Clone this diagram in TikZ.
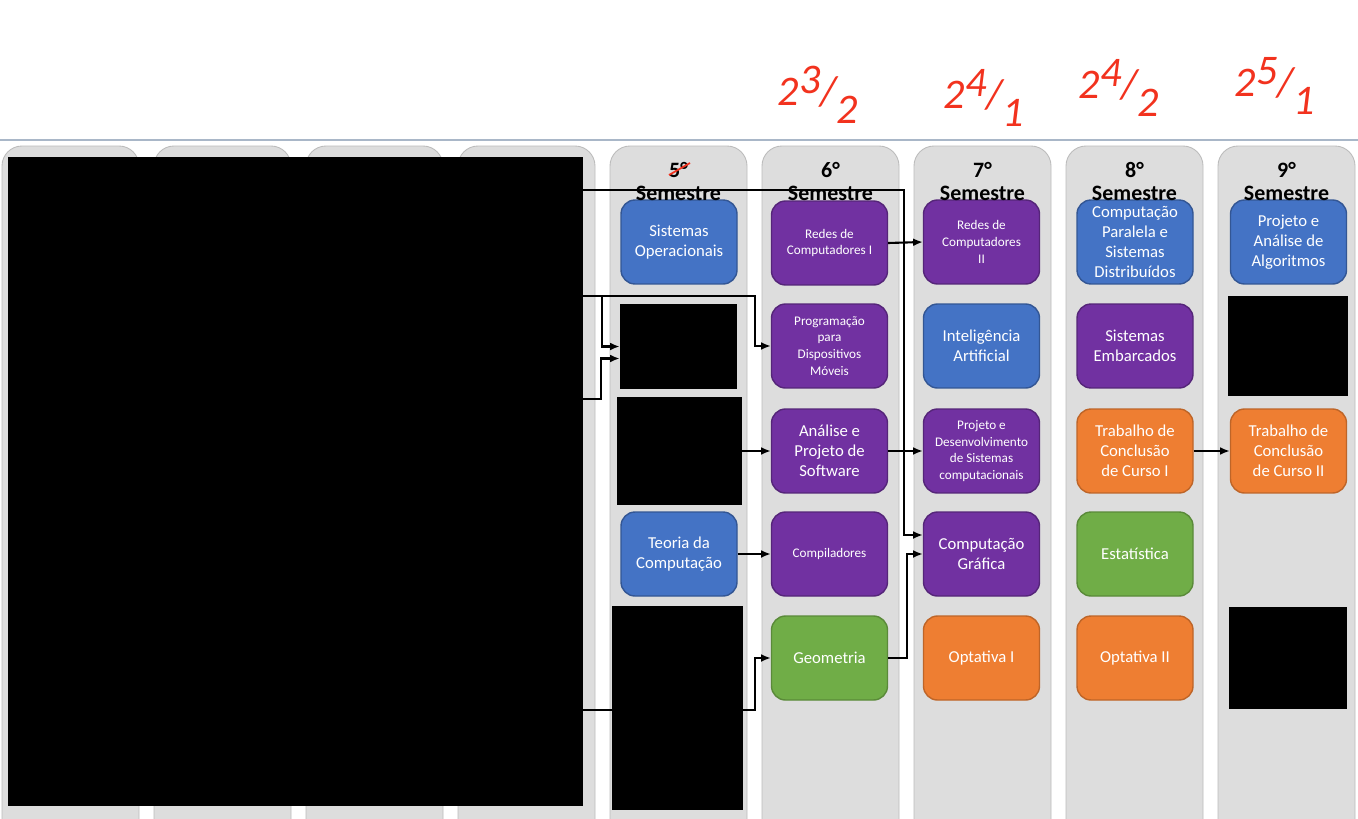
\documentclass[tikz,border=0pt]{standalone}
\usepackage{fontspec}
\setmainfont{Carlito}
\usetikzlibrary{arrows.meta}
\pgfdeclarelayer{cols}
\pgfdeclarelayer{hide}
\pgfsetlayers{cols,main,hide}
\definecolor{cazul}{HTML}{4473C5}
\definecolor{croxo}{HTML}{7131A1}
\definecolor{claranja}{HTML}{EE7E32}
\definecolor{cverde}{HTML}{70AD47}
\definecolor{ccinza}{HTML}{DDDDDD}
\definecolor{ctopo}{HTML}{A9B7C8}
\definecolor{cvermelho}{HTML}{F2321E}

\begin{document}
\begin{tikzpicture}[x=0.02cm,y=-0.02cm,
	coluna/.style={fill=ccinza,draw=ccinza!85!black,line width=0.5pt,rounded corners=0.4cm},
	disc/.style={rectangle,rounded corners=0.28cm,minimum width=2.32cm,minimum height=1.68cm,
		inner sep=1pt,align=center,text=white,line width=0.8pt,
		font=\fontsize{9.5}{11.3}\selectfont},
	pequena/.style={font=\fontsize{7.5}{9.6}\selectfont},
	caixaazul/.style={disc,fill=cazul,draw=cazul!75!black},
	caixaroxa/.style={disc,fill=croxo,draw=croxo!75!black},
	caixalaranja/.style={disc,fill=claranja,draw=claranja!80!black},
	caixaverde/.style={disc,fill=cverde,draw=cverde!80!black},
	cab/.style={align=center,font=\bfseries\fontsize{12.5}{13}\selectfont},
	tarja/.style={fill=black,inner sep=0pt},
	seta/.style={-{Latex[length=5.5pt,width=4.5pt]},line width=1.2pt},
	nota/.style={text=cvermelho,font=\itshape\fontsize{24}{24}\selectfont}]
	\useasboundingbox (0,0) rectangle (1358,818);
	
	\begin{pgfonlayer}{cols}
		\fill[white] (0,0) rectangle (1358,818);
		\draw[ctopo,line width=1.2pt] (0,140) -- (1358,140);
		\path[coluna] (2,820) -- (2,146) -- (139,146) -- (139,820);
		\path[coluna] (154,820) -- (154,146) -- (291,146) -- (291,820);
		\path[coluna] (306,820) -- (306,146) -- (443,146) -- (443,820);
		\path[coluna] (458,820) -- (458,146) -- (595,146) -- (595,820);
		\path[coluna] (610,820) -- (610,146) -- (747,146) -- (747,820);
		\path[coluna] (762,820) -- (762,146) -- (899,146) -- (899,820);
		\path[coluna] (914,820) -- (914,146) -- (1051,146) -- (1051,820);
		\path[coluna] (1066,820) -- (1066,146) -- (1203,146) -- (1203,820);
		\path[coluna] (1218,820) -- (1218,146) -- (1355,146) -- (1355,820);
	\end{pgfonlayer}
	
	\begin{pgfonlayer}{hide}
		\node[tarja,minimum width=11.5cm,minimum height=12.98cm] (h0) at (295.5,481.5) {};
		\node[tarja,minimum width=2.34cm,minimum height=1.7cm] (h5a) at (678.5,346.5) {};
		\node[tarja,minimum width=2.5cm,minimum height=2.16cm] (h5b) at (679.5,451) {};
		\node[tarja,minimum width=2.62cm,minimum height=4.08cm] (h5c) at (677.5,708) {};
		\node[tarja,minimum width=2.4cm,minimum height=2cm] (h9a) at (1288,346) {};
		\node[tarja,minimum width=2.36cm,minimum height=2.04cm] (h9b) at (1288,658) {};
	\end{pgfonlayer}
	
	\node[caixaazul] (so5) at (679,242) {Sistemas\\Operacionais};
	\node[caixaazul] (tc5) at (679,554) {Teoria da\\Computação};
	
	\node[caixaroxa,pequena] (rc6) at (829.5,243) {Redes de\\Computadores I};
	\node[caixaroxa,pequena] (pdm6) at (829.5,346) {Programação\\para\\Dispositivos\\Móveis};
	\node[caixaroxa] (aps6) at (829.5,451) {Análise e\\Projeto de\\Software};
	\node[caixaroxa,pequena] (comp6) at (829.5,554) {Compiladores};
	\node[caixaverde] (geo6) at (829.5,658) {Geometria};
	
	\node[caixaroxa,pequena] (rc7) at (981.5,242) {Redes de\\Computadores\\II};
	\node[caixaazul] (ia7) at (981.5,346) {Inteligência\\Artificial};
	\node[caixaroxa,pequena] (pds7) at (981.5,451) {Projeto e\\Desenvolvimento\\de Sistemas\\computacionais};
	\node[caixaroxa] (cg7) at (981.5,554) {Computação\\Gráfica};
	\node[caixalaranja] (opt7) at (981.5,658) {Optativa I};
	
	\node[caixaazul] (cpsd8) at (1135,242) {Computação\\Paralela e\\Sistemas\\Distribuídos};
	\node[caixaroxa] (se8) at (1135,346) {Sistemas\\Embarcados};
	\node[caixalaranja] (tcc8) at (1135,451) {Trabalho de\\Conclusão\\de Curso I};
	\node[caixaverde] (est8) at (1135,554) {Estatística};
	\node[caixalaranja] (opt8) at (1135,658) {Optativa II};
	
	\node[caixaazul] (paa9) at (1288.5,242) {Projeto e\\Análise de\\Algoritmos};
	\node[caixalaranja] (tcc9) at (1288.5,451) {Trabalho de\\Conclusão\\de Curso II};
	
	\coordinate (d1) at (904,190);
	\coordinate (d2) at (755,296);
	\coordinate (d3) at (602,296);
	\coordinate (d4) at (601,399);
	\coordinate (d5) at (755,710);
	
	\draw[seta] (h0.east |- d1) -- (d1) |- ([yshift=0.38cm]cg7.west);
	\draw[seta] (h0.east |- d2) -- (d2) |- (pdm6.west);
	\draw[seta] (d3) |- (h5a.west);
	\draw[seta] (h0.east |- d4) -- (d4) |- ([yshift=-0.24cm]h5a.west);
	\draw[seta] (h0.east |- d5) -- (d5) |- (geo6.west);
	\draw[seta] (h5b.east |- aps6) -- (aps6.west);
	\draw[seta] (tc5.east) -- (comp6.west);
	\draw[seta] (rc6.east) -- (rc7.west);
	\draw[seta] (aps6.east) -- (pds7.west);
	\draw[seta] (geo6.east) -- ++(19,0) |- (cg7.west);
	\draw[seta] (tcc8.east) -- (tcc9.west);
	
	\node[cab] (cab5) at (678.5,181.5) {5°\\Semestre};
	\node[cab] (cab6) at (830.5,181.5) {6°\\Semestre};
	\node[cab] (cab7) at (982.5,181.5) {7°\\Semestre};
	\node[cab] (cab8) at (1134.5,181.5) {8°\\Semestre};
	\node[cab] (cab9) at (1286.5,181.5) {9°\\Semestre};
	\draw[cvermelho,line width=1pt] (669,175) -- (690,163);
	
	\node[nota] (n6) at (818,95) {2\raisebox{0.6ex}{3}/\raisebox{-0.9ex}{2}};
	\node[nota] (n7) at (984,98) {2\raisebox{0.6ex}{4}/\raisebox{-0.9ex}{1}};
	\node[nota] (n8) at (1119,88) {2\raisebox{0.6ex}{4}/\raisebox{-0.9ex}{2}};
	\node[nota] (n9) at (1275,86) {2\raisebox{0.6ex}{5}/\raisebox{-0.9ex}{1}};
\end{tikzpicture}
\end{document}
